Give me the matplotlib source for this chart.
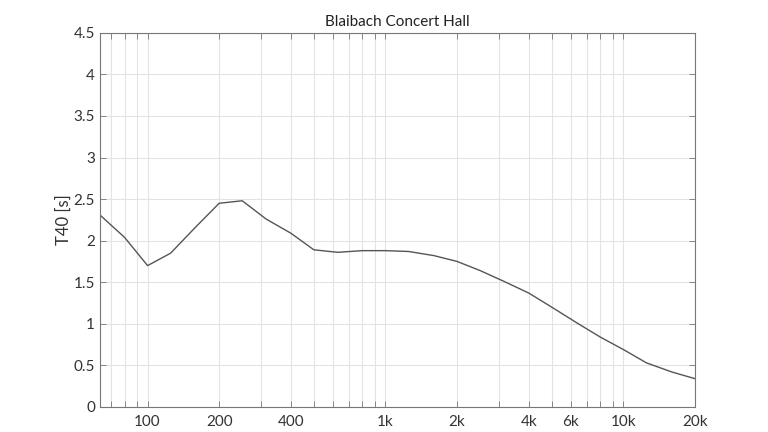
import matplotlib
matplotlib.use("Agg")
import matplotlib.pyplot as plt
from matplotlib.ticker import FixedLocator, LogLocator, NullFormatter

plt.rcParams['font.family'] = ['Lato', 'DejaVu Sans']

# third-octave band centres and T40 values
freqs = [63, 80, 100, 125, 160, 200, 250, 315, 400, 500, 630, 800, 1000,
         1250, 1600, 2000, 2500, 3150, 4000, 5000, 6300, 8000, 10000,
         12500, 16000, 20000]
t40 = [2.31, 2.04, 1.70, 1.85, 2.17, 2.45, 2.48, 2.26, 2.09, 1.89, 1.86,
       1.88, 1.88, 1.87, 1.82, 1.75, 1.64, 1.51, 1.37, 1.20, 1.02, 0.84,
       0.69, 0.53, 0.42, 0.34]

xticks = [100, 200, 400, 1000, 2000, 4000, 6000, 10000, 20000]
xticklabels = ['100', '200', '400', '1k', '2k', '4k', '6k', '10k', '20k']
yticks = [0, 0.5, 1, 1.5, 2, 2.5, 3, 3.5, 4, 4.5]
yticklabels = ['0', '0.5', '1', '1.5', '2', '2.5', '3', '3.5', '4', '4.5']

fig = plt.figure(figsize=(7.68, 4.32), dpi=100)
ax = fig.add_axes([0.130, 0.058, 0.775, 0.866])

ax.plot(freqs, t40, color='#555555', linewidth=1.0)

ax.set_xscale('log')
ax.set_xlim(63, 20000)
ax.set_ylim(0, 4.5)

# log grid: major + minor decades like MATLAB
ax.xaxis.set_major_locator(FixedLocator(xticks))
ax.xaxis.set_minor_locator(LogLocator(base=10, subs=range(1, 10), numticks=20))
ax.xaxis.set_minor_formatter(NullFormatter())
ax.set_xticklabels(xticklabels)
ax.set_yticks(yticks)
ax.set_yticklabels(yticklabels)

ax.grid(True, which='both', axis='x', color='#e3e3e3', linewidth=0.8)
ax.grid(True, which='major', axis='y', color='#e3e3e3', linewidth=0.8)
ax.set_axisbelow(True)

for s in ax.spines.values():
    s.set_color('#777777')
    s.set_linewidth(0.8)

ax.tick_params(which='both', direction='in', top=True, right=True,
               colors='#777777', labelcolor='#333333', labelsize=11,
               length=4, width=0.6)
ax.tick_params(axis='x', which='major', pad=6)

ax.set_ylabel('T40 [s]', fontsize=12, color='#333333', labelpad=1)
ax.set_title('Blaibach Concert Hall', fontsize=11, color='#222222', pad=5)

fig.savefig('out.png', dpi=100)
